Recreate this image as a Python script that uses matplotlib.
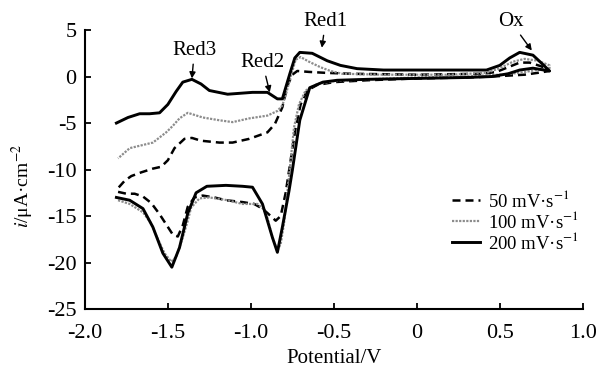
import matplotlib.pyplot as plt

plt.rcParams['font.family'] = ['Liberation Serif', 'DejaVu Serif']
plt.rcParams['mathtext.fontset'] = 'stix'

# 50 mV/s: lower branch from -1.8 V to 0.8 V, then back along the upper branch
v_50 = [-1.80, -1.75, -1.70, -1.65, -1.60, -1.55, -1.51, -1.47, -1.44, -1.41, -1.38, -1.34,
        -1.29, -1.22, -1.15, -1.05, -0.98, -0.93, -0.88, -0.85, -0.82, -0.79, -0.76, -0.73,
        -0.70, -0.66, -0.60, -0.50, -0.30, 0.00, 0.30, 0.45, 0.55, 0.65, 0.73, 0.80,
        0.75, 0.68, 0.62, 0.55, 0.48, 0.40, 0.00, -0.40, -0.55, -0.65, -0.72, -0.75, -0.78,
        -0.81, -0.855, -0.90, -1.01, -1.11, -1.19, -1.30, -1.355, -1.40, -1.46, -1.50, -1.54,
        -1.59, -1.66, -1.72, -1.76, -1.80]
i_50 = [-12.4, -12.6, -12.6, -12.9, -13.6, -14.8, -15.9, -17.0, -17.2, -16.0, -14.0, -13.0,
        -12.8, -13.0, -13.3, -13.5, -13.7, -14.2, -15.0, -15.5, -15.0, -12.5, -9.0, -5.5,
        -3.0, -1.5, -0.9, -0.6, -0.4, -0.2, -0.1, 0.0, 0.1, 0.2, 0.4, 0.6,
        1.1, 1.5, 1.5, 1.0, 0.5, 0.3, 0.2, 0.3, 0.4, 0.5, 0.6, 0.2, -1.0,
        -3.3, -5.1, -6.0, -6.7, -7.1, -7.1, -6.9, -6.6, -6.7, -7.7, -9.0, -9.7,
        -9.9, -10.3, -10.7, -11.2, -12.0]

# 100 mV/s
v_100 = [-1.80, -1.73, -1.65, -1.60, -1.57, -1.52, -1.48, -1.45, -1.41, -1.38, -1.36, -1.31,
         -1.25, -1.14, -1.05, -0.96, -0.92, -0.90, -0.87, -0.84, -0.82, -0.80, -0.78, -0.76,
         -0.74, -0.71, -0.67, -0.60, -0.50, -0.30, 0.00, 0.30, 0.50, 0.62, 0.72, 0.80,
         0.80, 0.73, 0.65, 0.58, 0.50, 0.42, 0.20, -0.20, -0.45, -0.52, -0.58, -0.65, -0.70,
         -0.73, -0.76, -0.79, -0.81, -0.84, -0.90, -1.01, -1.11, -1.19, -1.29, -1.38, -1.43,
         -1.47, -1.51, -1.59, -1.66, -1.73, -1.80]
i_100 = [-13.3, -13.7, -14.6, -15.8, -17.1, -19.0, -19.9, -19.4, -17.3, -15.5, -14.1, -13.1,
         -13.0, -13.3, -13.7, -13.7, -14.3, -15.2, -17.3, -18.7, -18.0, -15.8, -12.5, -9.0,
         -5.5, -3.0, -1.5, -0.8, -0.5, -0.3, -0.1, 0.0, 0.2, 0.4, 0.7, 0.9,
         1.2, 1.7, 1.9, 1.6, 0.9, 0.4, 0.2, 0.2, 0.3, 0.6, 1.0, 1.6, 2.1,
         1.8, 0.0, -2.0, -3.1, -3.7, -4.2, -4.5, -4.9, -4.7, -4.4, -3.9, -4.5,
         -5.3, -6.0, -7.1, -7.4, -7.7, -8.8]

# 200 mV/s
v_200 = [-1.81, -1.73, -1.65, -1.59, -1.53, -1.476, -1.43, -1.38, -1.33, -1.265, -1.15, -1.05,
         -0.99, -0.93, -0.87, -0.84, -0.81, -0.77, -0.75, -0.705, -0.645, -0.566, -0.48, -0.30,
         0.00, 0.30, 0.45, 0.55, 0.62, 0.70, 0.80,
         0.76, 0.70, 0.62, 0.56, 0.50, 0.42, 0.20, 0.00, -0.20, -0.36, -0.46, -0.54, -0.63,
         -0.705, -0.735, -0.765, -0.81, -0.84, -0.90, -0.99, -1.14, -1.25, -1.30, -1.355,
         -1.41, -1.45, -1.50, -1.55, -1.61, -1.67, -1.74, -1.81]
i_200 = [-13.0, -13.3, -14.2, -16.2, -19.0, -20.5, -18.4, -14.7, -12.5, -11.8, -11.7, -11.8,
         -11.9, -13.7, -17.3, -18.9, -16.2, -12.3, -10.1, -4.7, -1.2, -0.6, -0.4, -0.3,
         -0.2, -0.1, 0.0, 0.3, 0.7, 0.9, 0.6,
         1.3, 2.3, 2.6, 2.0, 1.2, 0.7, 0.7, 0.7, 0.7, 0.85, 1.2, 1.7, 2.5,
         2.6, 2.0, 0.3, -2.4, -2.4, -1.7, -1.7, -1.9, -1.5, -0.8, -0.3,
         -0.6, -1.6, -3.0, -3.9, -4.0, -4.0, -4.4, -5.0]

x_ticks = [-2.0, -1.5, -1.0, -0.5, 0.0, 0.5, 1.0]
x_labels = ['-2.0', '-1.5', '-1.0', '-0.5', '0', '0.5', '1.0']
y_ticks = [-25, -20, -15, -10, -5, 0, 5]
y_labels = ['-25', '-20', '-15', '-10', '-5', '0', '5']

fig = plt.figure(figsize=(6.02, 3.71), dpi=100)
ax = fig.add_axes([0.141, 0.167, 0.827, 0.752])

ax.plot(v_50, i_50, color='black', lw=1.8, linestyle=(0, (3.2, 2.0)), label='50 mV·s$^{-1}$')
ax.plot(v_100, i_100, color='#8c8c8c', lw=1.6, linestyle=(0, (1, 0.6)), label='100 mV·s$^{-1}$')
ax.plot(v_200, i_200, color='black', lw=2.1, label='200 mV·s$^{-1}$')

arrow = dict(arrowstyle='-|>', color='black', lw=1, mutation_scale=9, shrinkA=1, shrinkB=0)
ax.annotate('Red3', xy=(-1.355, -0.2), xytext=(-1.34, 2.8), ha='center', va='center',
            fontsize=15, arrowprops=arrow, annotation_clip=False)
ax.annotate('Red2', xy=(-0.886, -1.7), xytext=(-0.93, 1.5), ha='center', va='center',
            fontsize=15, arrowprops=arrow, annotation_clip=False)
ax.annotate('Red1', xy=(-0.572, 3.1), xytext=(-0.55, 5.9), ha='center', va='center',
            fontsize=15, arrowprops=arrow, annotation_clip=False)
ax.annotate('Ox', xy=(0.693, 2.8), xytext=(0.566, 5.9), ha='center', va='center',
            fontsize=15, arrowprops=arrow, annotation_clip=False)

ax.set_xlim(-2.0, 1.0)
ax.set_ylim(-25, 5)
ax.set_xticks(x_ticks)
ax.set_xticklabels(x_labels)
ax.set_yticks(y_ticks)
ax.set_yticklabels(y_labels)
ax.tick_params(direction='in', length=4, width=1.3, labelsize=16)
ax.tick_params(axis='x', pad=11)
ax.tick_params(axis='y', pad=6)
for s in ['top', 'right']:
    ax.spines[s].set_visible(False)
for s in ['left', 'bottom']:
    ax.spines[s].set_linewidth(1.5)

ax.set_xlabel('Potential/V', fontsize=15)
ax.xaxis.set_label_coords(0.5, -0.142)
ax.set_ylabel('$i$/μA·cm$^{-2}$', fontsize=14)
ax.yaxis.set_label_coords(-0.098, 0.44)

ax.legend(loc='upper left', bbox_to_anchor=(0.751, 0.488), bbox_transform=fig.transFigure,
          frameon=False, fontsize=13.5, handlelength=1.5, handletextpad=0.4,
          labelspacing=0.0, borderpad=0, borderaxespad=0)

fig.savefig('out.png', dpi=100)
